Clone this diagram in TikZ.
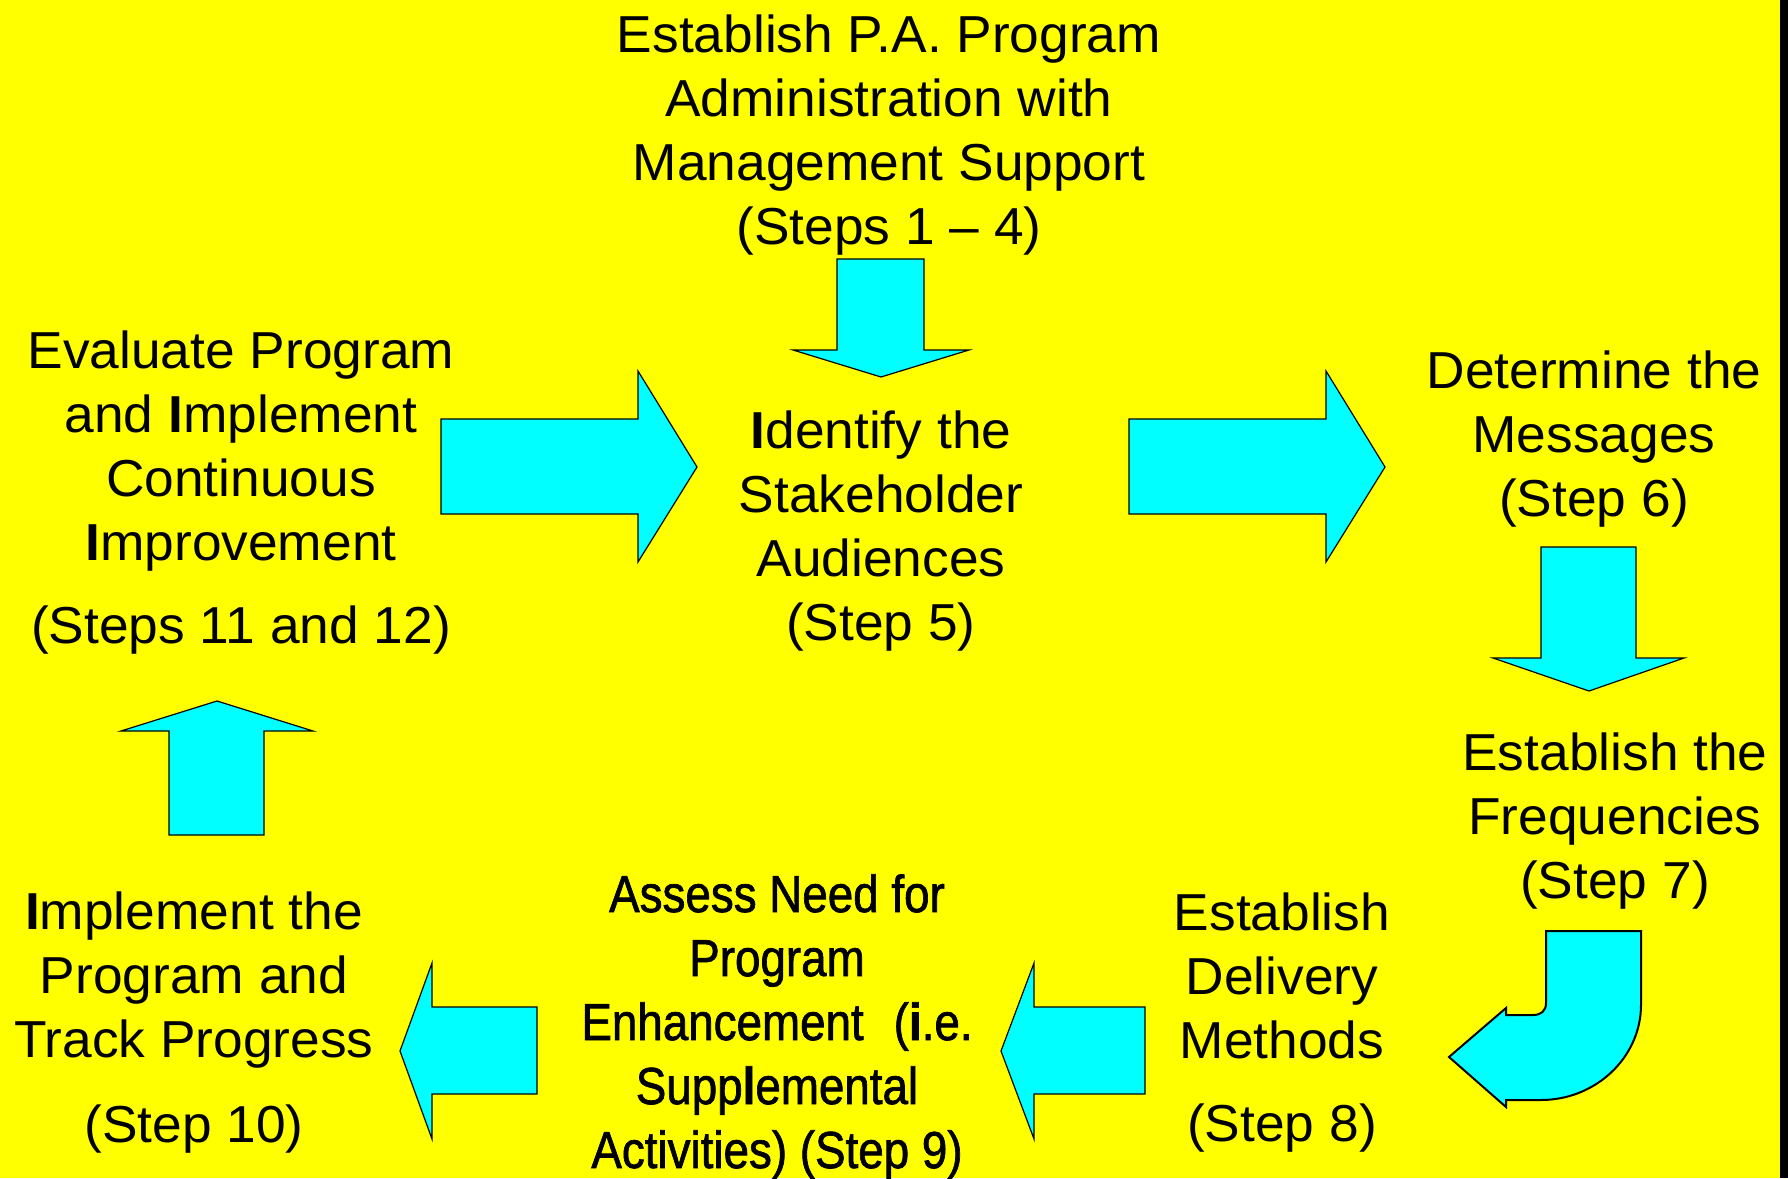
\documentclass[tikz,border=0pt]{standalone}
\usepackage{fontspec}
\setmainfont[FakeStretch=1.025]{Liberation Sans}
\newfontfamily\narrowfont[FakeStretch=0.88,FakeBold=1.3]{Liberation Sans}
\definecolor{bgyellow}{RGB}{255,255,0}
\definecolor{arrowcyan}{RGB}{0,255,255}
\begin{document}
\begin{tikzpicture}[x=1pt,y=-1pt,
  blockarrow/.style={fill=arrowcyan,draw=black,line width=1.2pt,line join=miter},
  steptext/.style={anchor=base,inner sep=0pt,font=\fontsize{52}{64}\selectfont},
]
% page and background
\useasboundingbox (0,0) rectangle (1788,1178);
\fill[bgyellow] (0,0) rectangle (1788,1178);
\fill[black] (1780,0) rectangle (1788,1178);

% step texts
\node[steptext] (admin) at (889,52) {\begin{tabular}[t]{@{}c@{}}
  Establish P.A. Program\\ Administration with\\ Management Support\\ (Steps 1 – 4)\end{tabular}};
\node[steptext] (audiences) at (881,448) {\begin{tabular}[t]{@{}c@{}}
  {\bfseries I}dentify the\\ Stakeholder\\ Audiences\\ (Step 5)\end{tabular}};
\node[steptext] (messages) at (1594,388) {\begin{tabular}[t]{@{}c@{}}
  Determine the\\ Messages\\ (Step 6)\end{tabular}};
\node[steptext] (frequencies) at (1615,770) {\begin{tabular}[t]{@{}c@{}}
  Establish the\\ Frequencies\\ (Step 7)\end{tabular}};
\node[steptext] (delivery) at (1282,930) {\begin{tabular}[t]{@{}c@{}}
  Establish\\ Delivery\\ Methods\\[19pt] (Step 8)\end{tabular}};
\node[steptext] (enhance) at (777,912) {\narrowfont\begin{tabular}[t]{@{}c@{}}
  Assess Need for\\ Program\\ Enhancement\hspace{30pt}({\bfseries i}.e.\\
  Supp{\bfseries l}emental\\ Activities) (Step 9)\end{tabular}};
\node[steptext] (implement) at (194,929) {\begin{tabular}[t]{@{}c@{}}
  {\bfseries I}mplement the\\ Program and\\ Track Progress\\[21pt] (Step 10)\end{tabular}};
\node[steptext] (evaluate) at (241,368) {\begin{tabular}[t]{@{}c@{}}
  Evaluate Program\\ and {\bfseries I}mplement\\ Continuous\\ {\bfseries I}mprovement\\[19pt]
  (Steps 11 and 12)\end{tabular}};

% block arrows between the steps
% admin -> audiences (down)
\draw[blockarrow] (837,259) -- (924,259) -- (924,350) -- (969,350) -- (881,377)
  -- (793,350) -- (837,350) -- cycle;
% evaluate -> audiences (right)
\draw[blockarrow] (441,419) -- (638,419) -- (638,371) -- (697,467) -- (638,562)
  -- (638,514) -- (441,514) -- cycle;
% audiences -> messages (right)
\draw[blockarrow] (1129,419) -- (1326,419) -- (1326,371) -- (1385,467) -- (1326,562)
  -- (1326,514) -- (1129,514) -- cycle;
% messages -> frequencies (down)
\draw[blockarrow] (1541,547) -- (1636,547) -- (1636,658) -- (1684,658) -- (1589,691)
  -- (1493,658) -- (1541,658) -- cycle;
% frequencies -> delivery (bent)
\draw[blockarrow,line width=2pt] (1546,931) -- (1641,931) -- (1641,1005)
  .. controls (1641,1057) and (1596,1100) .. (1541,1100)
  -- (1506,1100) -- (1506,1107) -- (1449,1057) -- (1506,1008) -- (1506,1015)
  -- (1533,1015) .. controls (1541,1015) and (1546,1011) .. (1546,1003) -- cycle;
% delivery -> enhance (left)
\draw[blockarrow] (1145,1007) -- (1034,1007) -- (1034,963) -- (1001,1051) -- (1034,1139)
  -- (1034,1094) -- (1145,1094) -- cycle;
% enhance -> implement (left)
\draw[blockarrow] (537,1007) -- (432,1007) -- (432,963) -- (400,1051) -- (432,1139)
  -- (432,1094) -- (537,1094) -- cycle;
% implement -> evaluate (up)
\draw[blockarrow] (169,835) -- (169,731) -- (121,731) -- (217,701) -- (313,731)
  -- (264,731) -- (264,835) -- cycle;
\end{tikzpicture}
\end{document}
